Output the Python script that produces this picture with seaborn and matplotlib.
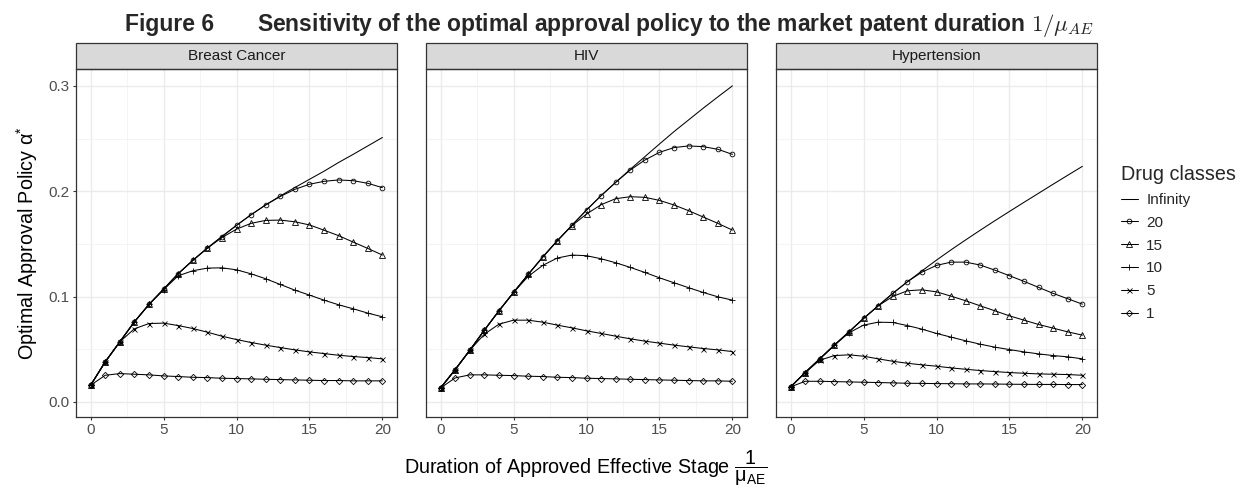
import numpy as np
import pandas as pd
import seaborn as sns
import matplotlib
matplotlib.use("Agg")
import matplotlib.pyplot as plt
from matplotlib.patches import Rectangle

# ---------------- data ----------------
durations = list(range(21))
diseases = ["Breast Cancer", "HIV", "Hypertension"]
drug_classes = ["Infinity", "20", "15", "10", "5", "1"]

bc_inf = [0.0158, 0.0380, 0.0570, 0.0760, 0.0925, 0.1070, 0.1217, 0.1343, 0.1460, 0.1570, 0.1676,
          0.1777, 0.1870, 0.1955, 0.2035, 0.2113, 0.2190, 0.2273, 0.2350, 0.2430, 0.2510]
bc_20 = [0.0158, 0.0380, 0.0570, 0.0760, 0.0925, 0.1070, 0.1217, 0.1343, 0.1460, 0.1570, 0.1676,
         0.1777, 0.1870, 0.1950, 0.2018, 0.2066, 0.2094, 0.2107, 0.2100, 0.2075, 0.2034]
bc_15 = [0.0158, 0.0380, 0.0570, 0.0760, 0.0925, 0.1070, 0.1217, 0.1343, 0.1460, 0.1560, 0.1640,
         0.1695, 0.1723, 0.1726, 0.1710, 0.1680, 0.1630, 0.1578, 0.1517, 0.1457, 0.1394]
bc_10 = [0.0158, 0.0380, 0.0570, 0.0760, 0.0925, 0.1065, 0.1197, 0.1245, 0.1270, 0.1273, 0.1254,
         0.1216, 0.1169, 0.1115, 0.1061, 0.1014, 0.0966, 0.0922, 0.0884, 0.0843, 0.0808]
bc_5 = [0.0158, 0.0380, 0.0570, 0.0694, 0.0744, 0.0748, 0.0725, 0.0697, 0.0662, 0.0624, 0.0592,
        0.0564, 0.0539, 0.0516, 0.0494, 0.0475, 0.0459, 0.0443, 0.0431, 0.0421, 0.0409]
bc_1 = [0.0158, 0.0253, 0.0269, 0.0263, 0.0257, 0.0247, 0.0241, 0.0234, 0.0231, 0.0225, 0.0222,
        0.0219, 0.0215, 0.0212, 0.0209, 0.0206, 0.0203, 0.0203, 0.0200, 0.0200, 0.0200]

hiv_inf = [0.0133, 0.0307, 0.0490, 0.0681, 0.0865, 0.1039, 0.1210, 0.1375, 0.1530, 0.1676, 0.1821,
           0.1958, 0.2084, 0.2208, 0.2328, 0.2448, 0.2566, 0.2677, 0.2788, 0.2895, 0.3000]
hiv_20 = [0.0133, 0.0307, 0.0490, 0.0681, 0.0865, 0.1039, 0.1210, 0.1375, 0.1530, 0.1676, 0.1821,
          0.1958, 0.2084, 0.2201, 0.2296, 0.2369, 0.2414, 0.2430, 0.2423, 0.2398, 0.2350]
hiv_15 = [0.0133, 0.0307, 0.0490, 0.0681, 0.0865, 0.1039, 0.1210, 0.1375, 0.1530, 0.1673, 0.1783,
          0.1872, 0.1929, 0.1948, 0.1942, 0.1913, 0.1869, 0.1815, 0.1755, 0.1695, 0.1631]
hiv_10 = [0.0133, 0.0307, 0.0490, 0.0681, 0.0865, 0.1039, 0.1191, 0.1296, 0.1366, 0.1394, 0.1388,
          0.1359, 0.1321, 0.1277, 0.1229, 0.1178, 0.1131, 0.1084, 0.1039, 0.0998, 0.0966]
hiv_5 = [0.0133, 0.0307, 0.0490, 0.0643, 0.0738, 0.0776, 0.0776, 0.0757, 0.0729, 0.0703, 0.0675,
         0.0650, 0.0624, 0.0599, 0.0577, 0.0558, 0.0539, 0.0523, 0.0507, 0.0494, 0.0478]
hiv_1 = [0.0133, 0.0228, 0.0257, 0.0257, 0.0253, 0.0250, 0.0244, 0.0241, 0.0234, 0.0231, 0.0225,
         0.0222, 0.0219, 0.0215, 0.0212, 0.0209, 0.0206, 0.0203, 0.0200, 0.0200, 0.0196]

hyp_inf = [0.0143, 0.0279, 0.0409, 0.0539, 0.0665, 0.0792, 0.0912, 0.1030, 0.1140, 0.1244, 0.1346,
           0.1444, 0.1538, 0.1630, 0.1720, 0.1808, 0.1895, 0.1981, 0.2067, 0.2152, 0.2236]
hyp_20 = [0.0143, 0.0279, 0.0409, 0.0539, 0.0665, 0.0792, 0.0912, 0.1030, 0.1140, 0.1232, 0.1296,
          0.1327, 0.1327, 0.1299, 0.1251, 0.1198, 0.1144, 0.1087, 0.1030, 0.0979, 0.0928]
hyp_15 = [0.0143, 0.0279, 0.0409, 0.0539, 0.0665, 0.0792, 0.0912, 0.1001, 0.1055, 0.1064, 0.1045,
          0.1004, 0.0960, 0.0912, 0.0865, 0.0817, 0.0776, 0.0735, 0.0700, 0.0665, 0.0634]
hyp_10 = [0.0143, 0.0279, 0.0409, 0.0539, 0.0656, 0.0729, 0.0757, 0.0754, 0.0725, 0.0691, 0.0650,
          0.0615, 0.0580, 0.0548, 0.0520, 0.0497, 0.0475, 0.0456, 0.0440, 0.0428, 0.0409]
hyp_5 = [0.0143, 0.0279, 0.0396, 0.0440, 0.0447, 0.0434, 0.0409, 0.0386, 0.0367, 0.0352, 0.0339,
         0.0323, 0.0310, 0.0298, 0.0288, 0.0279, 0.0272, 0.0266, 0.0263, 0.0260, 0.0253]
hyp_1 = [0.0143, 0.0196, 0.0196, 0.0193, 0.0190, 0.0187, 0.0184, 0.0181, 0.0177, 0.0176, 0.0174,
         0.0173, 0.0171, 0.0171, 0.0170, 0.0168, 0.0167, 0.0166, 0.0166, 0.0165, 0.0165]

series = {
    "Breast Cancer": [bc_inf, bc_20, bc_15, bc_10, bc_5, bc_1],
    "HIV": [hiv_inf, hiv_20, hiv_15, hiv_10, hiv_5, hiv_1],
    "Hypertension": [hyp_inf, hyp_20, hyp_15, hyp_10, hyp_5, hyp_1],
}

rows = []
for d in diseases:
    for cls, vals in zip(drug_classes, series[d]):
        for xv, yv in zip(durations, vals):
            rows.append({"disease": d, "cls": cls, "duration": xv, "alpha": yv})
df = pd.DataFrame(rows)

# ---------------- style ----------------
sns.set_theme(style="white")
plt.rcParams["font.family"] = ["Liberation Sans", "DejaVu Sans"]
plt.rcParams["mathtext.fontset"] = "custom"
plt.rcParams["mathtext.rm"] = "Liberation Sans"
plt.rcParams["mathtext.it"] = "Liberation Sans:italic"
plt.rcParams["mathtext.bf"] = "Liberation Sans:bold"

marker_style = {
    "Infinity": dict(marker=None),
    "20": dict(marker="o", markersize=3.4, markerfacecolor="none"),
    "15": dict(marker="^", markersize=4.0, markerfacecolor="none"),
    "10": dict(marker="+", markersize=5.0),
    "5": dict(marker="x", markersize=3.6),
    "1": dict(marker="D", markersize=3.2, markerfacecolor="none"),
}

W, H = 1241, 491
fig = plt.figure(figsize=(W / 100, H / 100), dpi=100)

panel_left = [76, 426, 776]
panel_w = 321
top_px, bot_px = 69, 417
strip_px = 26

grid_major = "#EBEBEB"
border = "#333333"

axes = []
for i, d in enumerate(diseases):
    ax = fig.add_axes([panel_left[i] / W, 1 - bot_px / H, panel_w / W, (bot_px - top_px) / H])
    axes.append(ax)
    sub = df[df["disease"] == d]
    for cls in drug_classes:
        s = sub[sub["cls"] == cls]
        sns.lineplot(data=s, x="duration", y="alpha", ax=ax, color="black", linewidth=0.75,
                     markeredgecolor="black", markeredgewidth=0.6, label=cls,
                     **marker_style[cls])
    ax.set_xlim(-1, 21)
    ax.set_ylim(-0.0143, 0.316)
    ax.set_xticks([0, 5, 10, 15, 20])
    ax.set_xticks([2.5, 7.5, 12.5, 17.5], minor=True)
    ax.set_yticks([0.0, 0.1, 0.2, 0.3])
    ax.set_yticks([0.05, 0.15, 0.25], minor=True)
    ax.grid(True, which="major", color=grid_major, linewidth=1.0)
    ax.grid(True, which="minor", color="#F2F2F2", linewidth=0.6)
    ax.set_axisbelow(True)
    for sp in ax.spines.values():
        sp.set_color(border)
        sp.set_linewidth(0.9)
    ax.tick_params(axis="both", which="major", length=2.5, width=0.8, color=border,
                   labelcolor="#4D4D4D", labelsize=11, pad=2.0, left=True, bottom=True)
    ax.tick_params(axis="both", which="minor", length=0)
    ax.set_xlabel("")
    ax.set_ylabel("")
    if i > 0:
        ax.tick_params(axis="y", labelleft=False, left=False)
    else:
        ax.set_yticklabels(["0.0", "0.1", "0.2", "0.3"])
    ax.get_legend().remove()
    # facet strip
    h_ax = strip_px / (bot_px - top_px)
    ax.add_patch(Rectangle((0, 1), 1, h_ax, transform=ax.transAxes, clip_on=False,
                           facecolor="#D9D9D9", edgecolor=border, linewidth=0.9))
    ax.text(0.5, 1 + h_ax / 2, d, transform=ax.transAxes, ha="center", va="center",
            fontsize=11, color="#1A1A1A")

# axis titles
fig.text(27 / W, 1 - 243 / H, r"Optimal Approval Policy $\mathrm{\alpha}^{*}$", rotation=90,
         ha="center", va="center", fontsize=14.2, color="black")
fig.text(586 / W, 1 - 474 / H,
         r"Duration of Approved Effective Stage $\dfrac{1}{\mathrm{\mu_{AE}}}$",
         ha="center", va="baseline", fontsize=14.2, color="black")

# legend
handles, labels = axes[0].get_legend_handles_labels()
leg = fig.legend(handles, labels, title="Drug classes", loc="upper left",
                 bbox_to_anchor=(1121 / W, 1 - 165 / H), frameon=False, fontsize=11,
                 title_fontsize=14.2, handlelength=1.1, handletextpad=0.55,
                 labelspacing=0.58, borderpad=0, borderaxespad=0)
leg._legend_box.align = "left"

# title
fig.text(125 / W, 1 - 31 / H, "Figure 6", ha="left", va="baseline", fontsize=16.5,
         fontweight="bold")
fig.text(257 / W, 1 - 31 / H,
         r"Sensitivity of the optimal approval policy to the market patent duration $1/\mu_{AE}$",
         ha="left", va="baseline", fontsize=16.5, fontweight="bold", math_fontfamily="cm")

fig.savefig("out.png", dpi=100)
